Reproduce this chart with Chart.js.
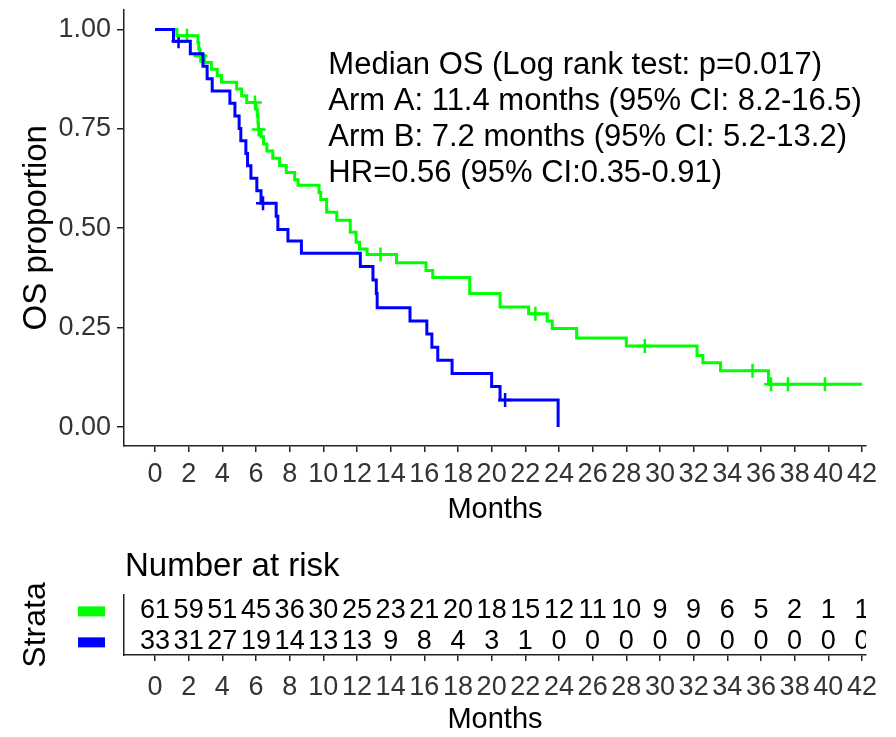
<!DOCTYPE html>
<html>
<head>
<meta charset="utf-8">
<script src="https://cdn.jsdelivr.net/npm/chart.js@4.4.1/dist/chart.umd.min.js"></script>
<style>
  body { margin: 0; background: #fff; }
  #wrap { position: relative; width: 896px; height: 737px; }
  canvas { position: absolute; left: 0; }
</style>
</head>
<body>
<div id="wrap">
  <canvas id="km" width="896" height="540" style="top:0"></canvas>
  <canvas id="risk" width="896" height="197" style="top:540px"></canvas>
</div>
<script>
// tick labels
const months = [0, 2, 4, 6, 8, 10, 12, 14, 16, 18, 20, 22, 24, 26, 28, 30, 32, 34, 36, 38, 40, 42];
const propTicks = [0, 0.25, 0.5, 0.75, 1];

// Arm A (green) - KM steps
const armATime = [0, 1.3, 2.55, 2.6, 2.65, 2.95, 3.35, 3.7, 3.95, 4.85, 5.15, 5.45, 6.0, 6.08, 6.12, 6.14,
  6.3, 6.45, 6.65, 7.0, 7.4, 7.8, 8.3, 8.5, 9.75, 9.85, 10.2, 10.8, 11.6, 11.95, 12.15, 12.6, 14.35,
  16.1, 16.5, 18.7, 20.5, 22.2, 23.3, 23.6, 25.05, 28.0, 32.2, 32.55, 33.6, 36.45, 42.0];
const armASurv = [1.0, 0.984, 0.967, 0.951, 0.934, 0.917, 0.900, 0.884, 0.867, 0.850, 0.833, 0.816, 0.799, 0.782, 0.765, 0.748,
  0.730, 0.712, 0.694, 0.676, 0.658, 0.640, 0.622, 0.608, 0.590, 0.572, 0.540, 0.520, 0.490, 0.465, 0.448, 0.434, 0.413,
  0.394, 0.376, 0.336, 0.302, 0.285, 0.267, 0.248, 0.224, 0.204, 0.180, 0.162, 0.142, 0.108, 0.108];
const armACensTime = [1.9, 2.7, 5.94, 6.16, 13.4, 22.6, 29.1, 35.5, 36.6, 37.6, 39.8];
const armACensSurv = [0.984, 0.934, 0.816, 0.748, 0.434, 0.285, 0.204, 0.142, 0.108, 0.108, 0.108];

// Arm B (blue)
const armBTime = [0, 1.1, 2.1, 2.85, 3.1, 3.4, 4.45, 4.75, 5.0, 5.1, 5.4, 5.5, 5.7, 6.05, 6.3, 7.2, 7.3, 7.9, 8.7,
  12.2, 12.95, 13.15, 13.2, 15.15, 16.15, 16.45, 16.8, 17.65, 20.0, 20.5, 23.95];
const armBSurv = [1.0, 0.970, 0.939, 0.907, 0.876, 0.845, 0.814, 0.782, 0.751, 0.720, 0.688, 0.657, 0.626, 0.594, 0.563, 0.530, 0.497, 0.468, 0.437,
  0.404, 0.370, 0.336, 0.300, 0.267, 0.234, 0.201, 0.168, 0.135, 0.102, 0.068, 0];
const armBCensTime = [1.4, 6.42, 20.8];
const armBCensSurv = [0.970, 0.563, 0.068];

// number at risk
const riskA = [61, 59, 51, 45, 36, 30, 25, 23, 21, 20, 18, 15, 12, 11, 10, 9, 9, 6, 5, 2, 1, 1];
const riskB = [33, 31, 27, 19, 14, 13, 13, 9, 8, 4, 3, 1, 0, 0, 0, 0, 0, 0, 0, 0, 0, 0];

const noteLines = [
  'Median OS (Log rank test: p=0.017)',
  'Arm A: 11.4 months (95% CI: 8.2-16.5)',
  'Arm B: 7.2 months (95% CI: 5.2-13.2)',
  'HR=0.56 (95% CI:0.35-0.91)'
];

const GREEN = '#00ff00';
const BLUE = '#0000ff';
const AXIS = '#222';
const TICK = '#333';
const sans = "'Liberation Sans',Arial,sans-serif";

function pts(xs, ys) {
  return xs.map((v, i) => ({ x: v, y: ys[i] }));
}

// keep the plot panel where the picture has it
function noPad(s) {
  s.paddingTop = 0; s.paddingBottom = 0; s.paddingLeft = 0; s.paddingRight = 0;
}

// text block in the upper right of the curves
const notePlugin = {
  id: 'note',
  afterDatasetsDraw(chart) {
    const { ctx, scales: { x, y } } = chart;
    ctx.save();
    ctx.font = '31px ' + sans;
    ctx.fillStyle = '#000';
    ctx.textBaseline = 'middle';
    noteLines.forEach((s, i) => {
      ctx.fillText(s, x.getPixelForValue(10.3), y.getPixelForValue(0.91 - i * 0.0908));
    });
    ctx.restore();
  }
};

new Chart(document.getElementById('km'), {
  type: 'line',
  data: {
    datasets: [
      { data: pts(armBTime, armBSurv), borderColor: BLUE, borderWidth: 3, stepped: true, pointRadius: 0, fill: false },
      { data: pts(armATime, armASurv), borderColor: GREEN, borderWidth: 3, stepped: true, pointRadius: 0, fill: false },
      { data: pts(armBCensTime, armBCensSurv), showLine: false, pointStyle: 'cross', pointRadius: 7,
        pointBorderWidth: 2.5, pointBorderColor: BLUE },
      { data: pts(armACensTime, armACensSurv), showLine: false, pointStyle: 'cross', pointRadius: 7,
        pointBorderWidth: 2.5, pointBorderColor: GREEN }
    ]
  },
  options: {
    responsive: false,
    animation: false,
    devicePixelRatio: 1,
    layout: { padding: { left: 0, right: 30, top: 7, bottom: 0 } },
    plugins: { legend: { display: false }, tooltip: { enabled: false } },
    scales: {
      x: {
        type: 'linear', min: -1.84, max: 42.24,
        afterBuildTicks: s => { s.ticks = months.map(v => ({ value: v })); },
        afterFit: s => { s.height = 94; noPad(s); },
        ticks: { autoSkip: false, maxRotation: 0, padding: 6, color: TICK, font: { family: sans, size: 27 } },
        grid: { drawOnChartArea: false, drawTicks: true, tickLength: 6, color: AXIS, lineWidth: 1.5 },
        border: { display: true, color: AXIS, width: 1.5 },
        title: { display: true, text: 'Months', color: '#000', font: { family: sans, size: 29 }, padding: { top: 0, bottom: 13 } }
      },
      y: {
        min: -0.0475, max: 1.05,
        afterBuildTicks: s => { s.ticks = propTicks.map(v => ({ value: v })); },
        afterFit: s => { s.width = 124; noPad(s); },
        ticks: { padding: 6, color: TICK, font: { family: sans, size: 27 }, callback: v => v.toFixed(2) },
        grid: { drawOnChartArea: false, drawTicks: true, tickLength: 7, color: AXIS, lineWidth: 1.5 },
        border: { display: true, color: AXIS, width: 1.5 },
        title: { display: true, text: 'OS proportion', color: '#000', font: { family: sans, size: 33 }, padding: { top: 17, bottom: 0 } }
      }
    }
  },
  plugins: [notePlugin]
});

// numbers at risk, strata keys and heading
const riskPlugin = {
  id: 'riskText',
  afterDatasetsDraw(chart) {
    const { ctx, chartArea, scales: { x, y } } = chart;
    const rows = [{ level: 2, values: riskA, color: GREEN }, { level: 1, values: riskB, color: BLUE }];
    ctx.save();
    ctx.beginPath();
    ctx.rect(chartArea.left, 0, chartArea.right - chartArea.left, chart.height);
    ctx.clip();
    ctx.font = '27px ' + sans;
    ctx.fillStyle = '#000';
    ctx.textAlign = 'center';
    ctx.textBaseline = 'middle';
    rows.forEach(r => {
      r.values.forEach((v, i) => ctx.fillText(String(v), x.getPixelForValue(months[i]), y.getPixelForValue(r.level)));
    });
    ctx.restore();

    ctx.save();
    rows.forEach(r => {
      ctx.fillStyle = r.color;
      ctx.fillRect(78, y.getPixelForValue(r.level) - 4, 27, 10);
    });
    ctx.font = '33px ' + sans;
    ctx.fillStyle = '#000';
    ctx.textBaseline = 'middle';
    ctx.fillText('Number at risk', chartArea.left + 1, 27);
    ctx.restore();
  }
};

new Chart(document.getElementById('risk'), {
  type: 'line',
  data: { datasets: [] },
  options: {
    responsive: false,
    animation: false,
    devicePixelRatio: 1,
    layout: { padding: { left: 0, right: 30, top: 55, bottom: 0 } },
    plugins: { legend: { display: false }, tooltip: { enabled: false } },
    scales: {
      x: {
        type: 'linear', min: -1.84, max: 42.24,
        afterBuildTicks: s => { s.ticks = months.map(v => ({ value: v })); },
        afterFit: s => { s.height = 82; noPad(s); },
        ticks: { autoSkip: false, maxRotation: 0, padding: 10, color: TICK, font: { family: sans, size: 27 } },
        grid: { drawOnChartArea: false, drawTicks: true, tickLength: 6, color: AXIS, lineWidth: 1.5 },
        border: { display: true, color: AXIS, width: 1.5 },
        title: { display: true, text: 'Months', color: '#000', font: { family: sans, size: 29 }, padding: { top: 0, bottom: 0 } }
      },
      y: {
        type: 'linear', min: 0.56, max: 2.496,
        afterFit: s => { s.width = 124; noPad(s); },
        ticks: { display: false },
        grid: { display: false },
        border: { display: true, color: AXIS, width: 1.5 },
        title: { display: true, text: 'Strata', color: '#000', font: { family: sans, size: 32 }, padding: { top: 17, bottom: 0 } }
      }
    }
  },
  plugins: [riskPlugin]
});
</script>
</body>
</html>
